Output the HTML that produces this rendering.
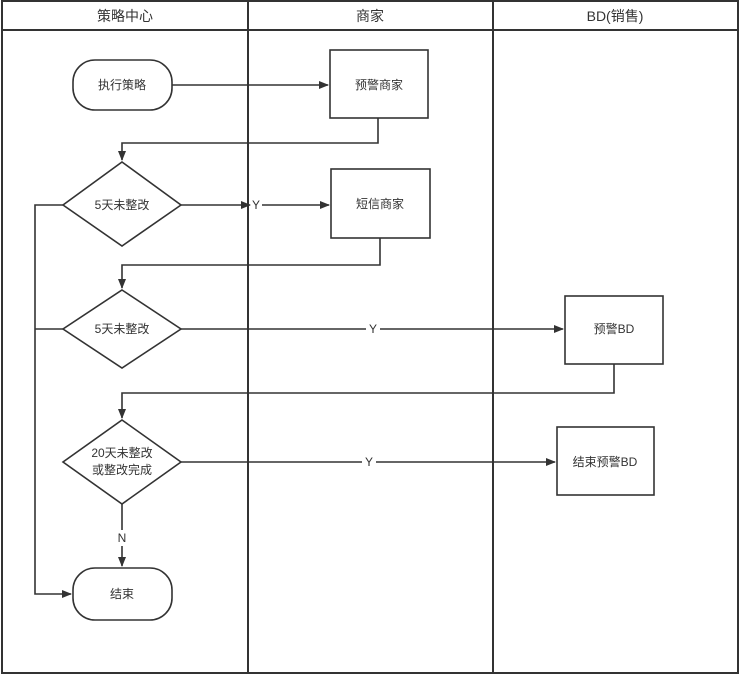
<!DOCTYPE html>
<html><head><meta charset="utf-8"><style>
html,body{margin:0;padding:0;background:#fff;}
svg text{font-family:"Liberation Sans","Noto Sans CJK SC",sans-serif;fill:#333;}
</style></head><body>
<svg width="740" height="675" viewBox="0 0 740 675" xmlns="http://www.w3.org/2000/svg">
<defs><marker id="a" markerWidth="10" markerHeight="8" refX="9" refY="4" orient="auto" markerUnits="userSpaceOnUse"><path d="M0,0 L10,4 L0,8 z" fill="#333"/></marker></defs>
<g stroke="#333" stroke-width="2" fill="none">
<rect x="2" y="1" width="736" height="672"/>
<line x1="2" y1="30" x2="738" y2="30"/>
<line x1="248" y1="1" x2="248" y2="673"/>
<line x1="493" y1="1" x2="493" y2="673"/>
</g>
<g font-size="14" text-anchor="middle" style="fill:#555">
<text x="125" y="21" fill="#666">策略中心</text>
<text x="370" y="21" fill="#666">商家</text>
<text x="615" y="21" fill="#666">BD(销售)</text>
</g>
<g stroke="#333" stroke-width="1.6" fill="#fff">
<rect x="73" y="60" width="99" height="50" rx="22"/>
<rect x="330" y="50" width="98" height="68"/>
<polygon points="122,162 181,205 122,246 63,205"/>
<rect x="331" y="169" width="99" height="69"/>
<polygon points="122,290 181,329 122,368 63,329"/>
<rect x="565" y="296" width="98" height="68"/>
<polygon points="122,420 181,462 122,504 63,462"/>
<rect x="557" y="427" width="97" height="68"/>
<rect x="73" y="568" width="99" height="52" rx="22"/>
</g>
<g stroke="#333" stroke-width="1.6" fill="none" marker-end="url(#a)">
<line x1="172" y1="85" x2="328" y2="85"/>
<polyline points="378,118 378,143 122,143 122,160"/>
<polyline points="181,205 250,205"/>
<line x1="262" y1="205" x2="329" y2="205"/>
<polyline points="380,238 380,265 122,265 122,288"/>
<polyline points="181,329 366,329" marker-end="none"/>
<line x1="380" y1="329" x2="563" y2="329"/>
<polyline points="614,364 614,393 122,393 122,418"/>
<polyline points="181,462 362,462" marker-end="none"/>
<line x1="376" y1="462" x2="555" y2="462"/>
<line x1="122" y1="504" x2="122" y2="530" marker-end="none"/>
<line x1="122" y1="546" x2="122" y2="566"/>
<polyline points="63,205 35,205 35,594 71,594"/>
<line x1="35" y1="329" x2="63" y2="329" marker-end="none"/>
</g>
<g font-size="12" text-anchor="middle">
<text x="122" y="89">执行策略</text>
<text x="379" y="89">预警商家</text>
<text x="122" y="209">5天未整改</text>
<text x="380" y="208">短信商家</text>
<text x="122" y="333">5天未整改</text>
<text x="614" y="333">预警BD</text>
<text x="122" y="457">20天未整改</text>
<text x="122" y="474">或整改完成</text>
<text x="605" y="466">结束预警BD</text>
<text x="122" y="598">结束</text>
<text x="256" y="209">Y</text>
<text x="373" y="333">Y</text>
<text x="369" y="466">Y</text>
<text x="122" y="542">N</text>
</g>
</svg>
</body></html>
